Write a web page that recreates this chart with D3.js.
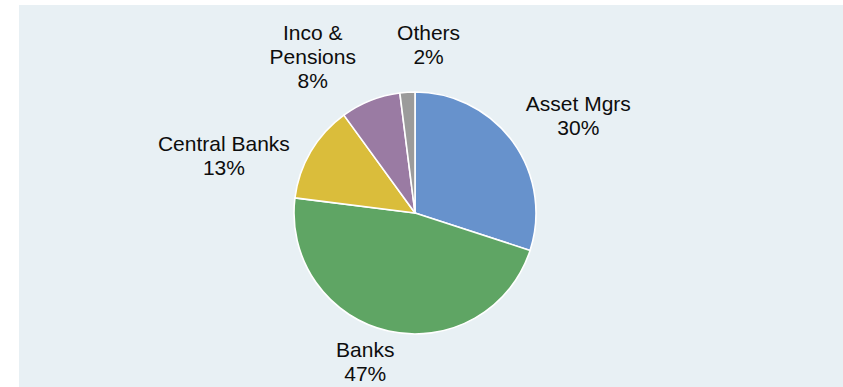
<!DOCTYPE html>
<html>
<head>
<meta charset="utf-8">
<script src="https://cdn.jsdelivr.net/npm/d3@7/dist/d3.min.js"></script>
<style>
  html, body { margin: 0; padding: 0; background: #ffffff; overflow: hidden; }
  svg { display: block; }
</style>
</head>
<body>
<svg id="chart" width="843" height="387"></svg>
<script>
// Holders by type, share of total (%)
const categories = ["Asset Mgrs", "Banks", "Central Banks", "Inco & Pensions", "Others"];
const shares = [30, 47, 13, 8, 2];
const labelLines = [["Asset Mgrs"], ["Banks"], ["Central Banks"], ["Inco &", "Pensions"], ["Others"]];
const sliceColors = ["#6792cc", "#5fa564", "#dabd3b", "#9a7ba3", "#9b9b9b"];

// Label nudges from the radial anchor point (layout only)
const labelNudge = [[42, -9], [-17, 2], [-62, 19], [-47, -17], [23, -19]];

const width = 843, height = 387;
const svg = d3.select("#chart");

// Plot area background
svg.append("rect")
  .attr("x", 19).attr("y", 5)
  .attr("width", width - 19).attr("height", height - 5)
  .attr("fill", "#e8f0f4");

const cx = 415, cy = 213, radius = 121, labelRadius = 150;

const data = categories.map((c, i) => ({ name: c, value: shares[i], lines: labelLines[i], i }));

const pie = d3.pie().value(d => d.value).sort(null);
const arcs = pie(data);
const arc = d3.arc().innerRadius(0).outerRadius(radius);

const g = svg.append("g").attr("transform", `translate(${cx},${cy})`);

g.selectAll("path.slice")
  .data(arcs)
  .join("path")
  .attr("class", "slice")
  .attr("d", arc)
  .attr("fill", d => sliceColors[d.data.i])
  .attr("stroke", "#ffffff")
  .attr("stroke-width", 1.6)
  .attr("stroke-linejoin", "round");

const fontSize = 21, lineH = 24;
const labels = g.selectAll("text.lbl")
  .data(arcs)
  .join("text")
  .attr("class", "lbl")
  .attr("text-anchor", "middle")
  .attr("font-family", "Liberation Sans, Arial, sans-serif")
  .attr("font-size", fontSize)
  .attr("fill", "#0d0d0d");

labels.each(function(d) {
  const mid = (d.startAngle + d.endAngle) / 2;
  const nx = labelNudge[d.data.i][0], ny = labelNudge[d.data.i][1];
  const x = Math.sin(mid) * labelRadius + nx;
  const yc = -Math.cos(mid) * labelRadius + ny;
  const lines = d.data.lines.concat([d.data.value + "%"]);
  const firstBase = yc - (lines.length - 1) * lineH / 2 + 7.5;
  const t = d3.select(this);
  lines.forEach((ln, k) => {
    t.append("tspan")
      .attr("x", x)
      .attr("y", firstBase + k * lineH)
      .text(ln);
  });
});
</script>
</body>
</html>
